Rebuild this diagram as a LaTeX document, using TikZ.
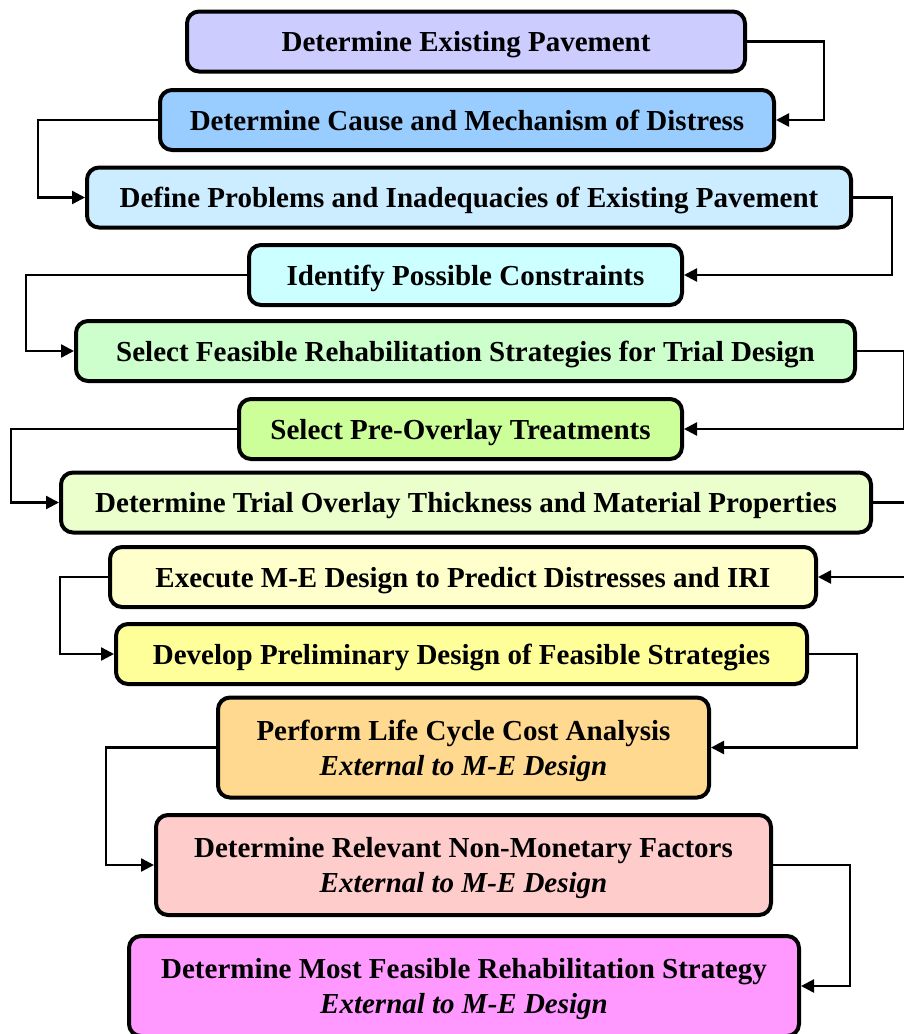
\documentclass[tikz,border=0pt]{standalone}
\usepackage{fontspec}
\setmainfont{Liberation Serif}
\usepackage{tikz}
\usetikzlibrary{arrows.meta}
\definecolor{existfill}{HTML}{CCCCFF}
\definecolor{causefill}{HTML}{99CCFF}
\definecolor{probfill}{HTML}{CCECFF}
\definecolor{consfill}{HTML}{CCFFFF}
\definecolor{stratfill}{HTML}{CCFFCC}
\definecolor{prefill}{HTML}{CCFF99}
\definecolor{trialfill}{HTML}{EBFFCC}
\definecolor{execfill}{HTML}{FFFFCC}
\definecolor{prelimfill}{HTML}{FFFF99}
\definecolor{lccafill}{HTML}{FFD98F}
\definecolor{nonmonfill}{HTML}{FFCCCC}
\definecolor{finalfill}{HTML}{FF99FF}

\begin{document}
\begin{tikzpicture}[
  x=0.5pt,y=-0.5pt,
  stage/.style={draw,line width=2pt,rounded corners=6pt,align=center,
                minimum height=30pt,inner sep=2pt,text depth=0pt,
                font=\fontsize{14.5pt}{17.5pt}\selectfont\bfseries},
  tall/.style={stage,minimum height=50pt},
  link/.style={-{Triangle[length=6.5pt,width=6.5pt]},line width=1.2pt}
]
\useasboundingbox (0,0) rectangle (904,1034);
\clip (0,0) rectangle (904,1034);
\node[stage,fill=existfill,minimum width=279pt] (exist) at (466,41.5) {Determine Existing Pavement};
\node[stage,fill=causefill,minimum width=307pt] (cause) at (467,120) {Determine Cause and Mechanism of Distress};
\node[stage,fill=probfill,minimum width=382pt] (prob) at (469,197.5) {Define Problems and Inadequacies of Existing Pavement};
\node[stage,fill=consfill,minimum width=216.5pt] (cons) at (465.5,275) {Identify Possible Constraints};
\node[stage,fill=stratfill,minimum width=389.5pt] (strat) at (465.5,351) {Select Feasible Rehabilitation Strategies for Trial Design};
\node[stage,fill=prefill,minimum width=221.5pt] (pre) at (460.5,429) {Select Pre-Overlay Treatments};
\node[stage,fill=trialfill,minimum width=405pt] (trial) at (466,502.5) {Determine Trial Overlay Thickness and Material Properties};
\node[stage,fill=execfill,minimum width=353pt] (exec) at (463,577) {Execute M-E Design to Predict Distresses and IRI};
\node[stage,fill=prelimfill,minimum width=345.5pt] (prelim) at (461.5,654) {Develop Preliminary Design of Feasible Strategies};
\node[tall,fill=lccafill,minimum width=245.5pt] (lcca) at (463.5,747.5) {Perform Life Cycle Cost Analysis\\\textit{External to M-E Design}};
\node[tall,fill=nonmonfill,minimum width=307.5pt] (nonmon) at (463.5,865) {Determine Relevant Non-Monetary Factors\\\textit{External to M-E Design}};
\node[tall,fill=finalfill,minimum width=335pt] (final) at (464,986) {Determine Most Feasible Rehabilitation Strategy\\\textit{External to M-E Design}};
% zig-zag connectors
\draw[link] (exist.east) -- ++(77,0) |- (cause.east);
\draw[link] (cause.west) -- ++(-120,0) |- (prob.west);
\draw[link] (prob.east) -- ++(39,0) |- (cons.east);
\draw[link] (cons.west) -- ++(-221,0) |- (strat.west);
\draw[link] (strat.east) -- ++(47,0) |- (pre.east);
\draw[link] (pre.west) -- ++(-226,0) |- (trial.west);
\draw[link] (trial.east) -- ++(50,0) |- (exec.east);
\draw[link] (exec.west) -- ++(-48,0) |- (prelim.west);
\draw[link] (prelim.east) -- ++(48,0) |- (lcca.east);
\draw[link] (lcca.west) -- ++(-110,0) |- (nonmon.west);
\draw[link] (nonmon.east) -- ++(77,0) |- (final.east);
\end{tikzpicture}
\end{document}
